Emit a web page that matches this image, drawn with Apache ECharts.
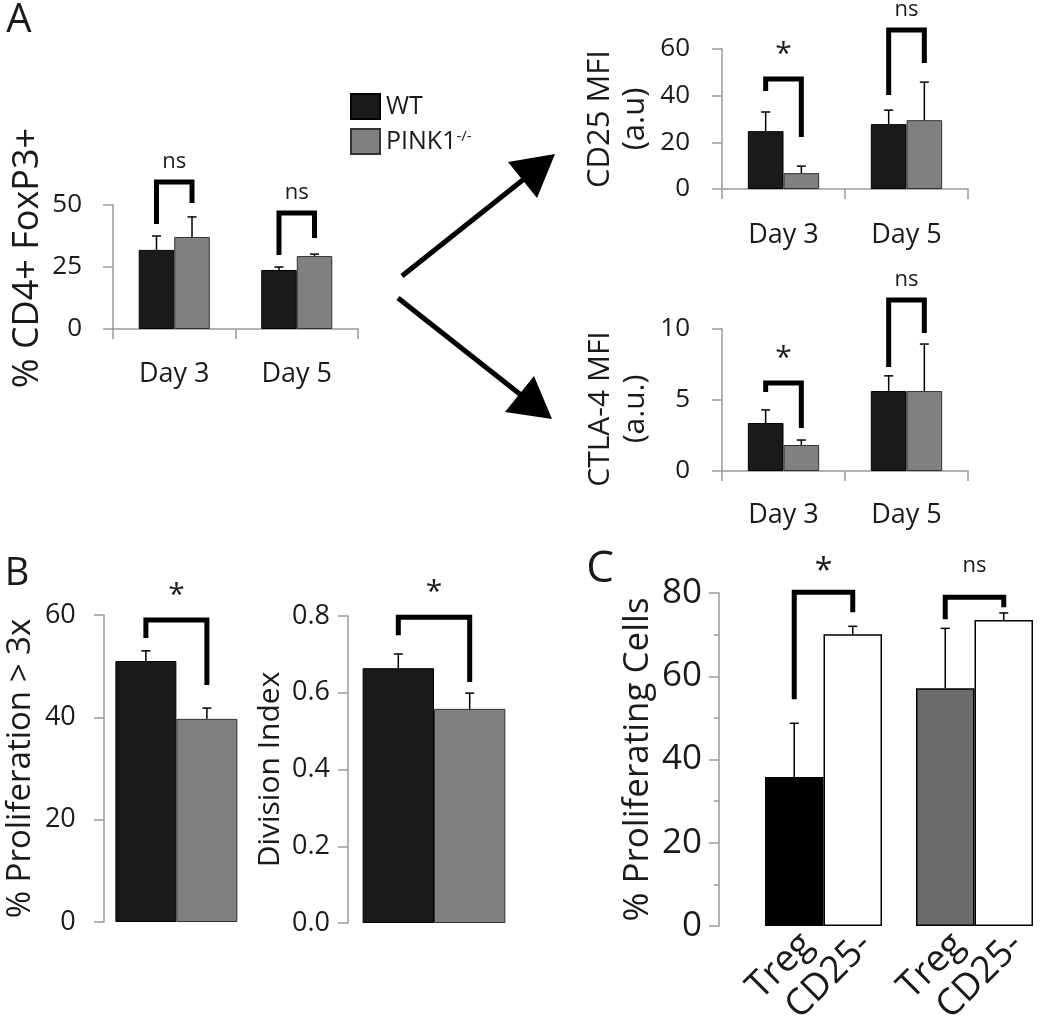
<!DOCTYPE html>
<html><head><meta charset="utf-8">
<script src="https://cdn.jsdelivr.net/npm/echarts@6/dist/echarts.min.js"></script>
<style>html,body{margin:0;padding:0;background:#fff}#c{width:1050px;height:1016px}</style>
</head><body><div id="c"></div>
<script>
// ---------- DATA ----------
const days = ['Day 3', 'Day 5'];
const groupNames = ['WT', 'PINK1-/-'];
// Panel A left: % CD4+ FoxP3+
const foxWT = [31.9, 23.8], foxWTErr = [37.5, 25.0];
const foxKO = [37.1, 29.4], foxKOErr = [45.2, 30.2];
// Panel A top right: CD25 MFI
const cd25WT = [24.8, 27.8], cd25WTErr = [33.0, 33.8];
const cd25KO = [6.8, 29.5], cd25KOErr = [9.8, 45.8];
// Panel A bottom right: CTLA-4 MFI
const ctlaWT = [3.38, 5.63], ctlaWTErr = [4.3, 6.7];
const ctlaKO = [1.83, 5.63], ctlaKOErr = [2.18, 8.94];
// Panel B
const prolifCat = [''];
const prolifWT = [51.0], prolifWTErr = [53.0];
const prolifKO = [39.7], prolifKOErr = [41.8];
const divWT = [0.664], divWTErr = [0.701];
const divKO = [0.558], divKOErr = [0.599];
// Panel C
const cGroups = ['WT', 'PINK1-/-'];
const cTreg = [35.8, 57.1], cTregErr = [48.7, 71.5];
const cCD25 = [70.1, 73.5], cCD25Err = [72.0, 75.2];
// Significance brackets: top, left leg end, right leg end (data units), label
const foxBrTop = [59.3, 46.8], foxBrL = [42.3, 29.8], foxBrR = [50.8, 36.7], foxSig = ['ns', 'ns'];
const cd25BrTop = [47.1, 68.1], cd25BrL = [42.0, 40.3], cd25BrR = [22.3, 54.0], cd25Sig = ['*', 'ns'];
const ctlaBrTop = [6.2, 12.04], ctlaBrL = [5.56, 7.32], ctlaBrR = [3.03, 9.72], ctlaSig = ['*', 'ns'];
const prolifBrTop = [59.0], prolifBrL = [55.5], prolifBrR = [46.3], prolifSig = ['*'];
const divBrTop = [0.797], divBrL = [0.750], divBrR = [0.628], divSig = ['*'];
const cBrTop = [80.2, 79.0], cBrL = [54.5, 73.7], cBrR = [75.4, 76.6], cSig = ['*', 'ns'];

// ---------- HELPERS ----------
const FONT = 'Open Sans';
const BLACK = '#1a1a1a', GRAY = '#808080', AXIS = '#9a9a9a';

function barW(api, gap) { return api.size([1, 0])[0] * (1 - gap) / 2; }

function errSeries(idx, vals, errs, slot, gap) {
  return {
    type: 'custom', xAxisIndex: idx, yAxisIndex: idx, silent: true, z: 5, clip: false,
    data: vals.map((v, i) => [i, v, errs[i]]),
    renderItem(params, api) {
      const bw = barW(api, gap);
      const c = api.coord([api.value(0), api.value(1)]);
      const t = api.coord([api.value(0), api.value(2)]);
      const x = c[0] + (slot === 0 ? -bw / 2 : bw / 2);
      return { type: 'group', children: [
        { type: 'line', shape: { x1: x, y1: c[1], x2: x, y2: t[1] }, style: { stroke: '#000', lineWidth: 1.5 } },
        { type: 'line', shape: { x1: x - 4.5, y1: t[1], x2: x + 4.5, y2: t[1] }, style: { stroke: '#000', lineWidth: 1.5 } }
      ] };
    }
  };
}

function bracketSeries(idx, tops, ls, rs, sigs, gap, offs, fonts) {
  return {
    type: 'custom', xAxisIndex: idx, yAxisIndex: idx, silent: true, z: 6, clip: false,
    data: tops.map((t, i) => [i, t, ls[i], rs[i]]),
    renderItem(params, api) {
      const bw = barW(api, gap);
      const i = api.value(0);
      const top = api.coord([i, api.value(1)]);
      const lb = api.coord([i, api.value(2)]);
      const rb = api.coord([i, api.value(3)]);
      const lx = top[0] - bw / 2, rx = top[0] + bw / 2;
      const s = sigs[params.dataIndex];
      return { type: 'group', children: [
        { type: 'polyline', shape: { points: [[lx, lb[1]], [lx, top[1]], [rx, top[1]], [rx, rb[1]]] },
          style: { stroke: '#000', lineWidth: 5, fill: null, lineJoin: 'miter', lineCap: 'butt' } },
        { type: 'text', x: top[0], y: top[1] - offs[s],
          style: { text: s, fontFamily: FONT, fontSize: fonts[s], fill: BLACK, align: 'center', verticalAlign: 'middle' } }
      ] };
    }
  };
}

function valueAxis(idx, max, interval, name, nameSize, nameGap, lh, margin, pad, extra) {
  return Object.assign({
    type: 'value', gridIndex: idx, min: 0, max: max, interval: interval,
    axisLine: { show: true, lineStyle: { color: AXIS, width: 1.5 } },
    axisTick: { show: true, length: 10, lineStyle: { color: AXIS, width: 1.5 } },
    splitLine: { show: false },
    axisLabel: { fontFamily: FONT, fontSize: 26, color: BLACK, margin: margin },
    name: name, nameLocation: 'middle', nameRotate: 90, nameGap: nameGap,
    nameTextStyle: { fontFamily: FONT, fontSize: nameSize, color: BLACK, lineHeight: lh, padding: pad }
  }, extra || {});
}

function catAxis(idx, data, showLine, margin) {
  return {
    type: 'category', gridIndex: idx, data: data,
    axisLine: { show: showLine, lineStyle: { color: AXIS, width: 1.5 } },
    axisTick: { show: showLine, length: 10, lineStyle: { color: AXIS, width: 1.5 } },
    axisLabel: { show: showLine, fontFamily: FONT, fontSize: 27, color: BLACK, margin: margin }
  };
}

function bars(idx, name, vals, color, border, gap) {
  return {
    type: 'bar', name: name, xAxisIndex: idx, yAxisIndex: idx, data: vals,
    barGap: '0%', barCategoryGap: (gap * 100) + '%', z: 2,
    itemStyle: { color: color, borderColor: border, borderWidth: 1 }
  };
}

const GA = 0.42, GB1 = 0.16, GB2 = 0.17, GC = 0.225;
const offA = { 'ns': 20, '*': 25 }, fontA = { 'ns': 22, '*': 30 };
const offC = { 'ns': 31, '*': 20 }, fontC = { 'ns': 22, '*': 32 };
const cLabel = { show: true, position: 'bottom', distance: 0, rotate: 45, align: 'right', verticalAlign: 'top',
  formatter: '{a}', fontFamily: FONT, fontSize: 37, color: BLACK };

const option = {
  animation: false,
  textStyle: { fontFamily: FONT },
  legend: {
    left: 345, top: 88, orient: 'vertical', itemWidth: 29, itemHeight: 25, itemGap: 8,
    data: groupNames, icon: 'rect',
    formatter: n => n === 'PINK1-/-' ? 'PINK1{sup|-/-}' : n,
    textStyle: { fontFamily: FONT, fontSize: 25, color: BLACK, padding: [0, 0, 0, 1],
      rich: { sup: { fontFamily: FONT, fontSize: 15, verticalAlign: 'top', padding: [0, 0, 10, 0], color: BLACK } } }
  },
  grid: [
    { left: 113, top: 205, width: 245, height: 124 },
    { left: 722, top: 49, width: 246, height: 140 },
    { left: 722, top: 329, width: 246, height: 142 },
    { left: 95, top: 615, width: 154, height: 307 },
    { left: 348, top: 616, width: 172, height: 307 },
    { left: 748, top: 593, width: 320, height: 333 }
  ],
  xAxis: [
    catAxis(0, days, true, 32),
    catAxis(1, days, true, 33),
    catAxis(2, days, true, 31),
    catAxis(3, prolifCat, false, 10),
    catAxis(4, prolifCat, false, 10),
    catAxis(5, cGroups, false, 10)
  ],
  yAxis: [
    valueAxis(0, 50, 25, '% CD4+ FoxP3+', 36, 64, 42, 31, [0, 0, 0, 18]),
    valueAxis(1, 60, 20, 'CD25 MFI\n(a.u)', 31, 69, 35, 32, 0),
    valueAxis(2, 10, 5, 'CTLA-4 MFI\n(a.u.)', 30, 69, 35, 32, [0, 18, 0, 0]),
    valueAxis(3, 60, 20, '% Proliferation > 3x', 33, 56, 40, 28, 0,
      { axisLabel: { fontFamily: FONT, fontSize: 27, color: BLACK, margin: 28 } }),
    valueAxis(4, 0.8, 0.2, 'Division Index', 30, 55, 36, 18, 0,
      { axisLabel: { fontFamily: FONT, fontSize: 27, color: BLACK, margin: 18, formatter: v => v.toFixed(1) } }),
    valueAxis(5, 80, 20, '% Proliferating Cells', 35, 51, 40, 17, 0,
      { offset: 29, axisLabel: { fontFamily: FONT, fontSize: 35, color: BLACK, margin: 17 },
        minorTick: { show: true, splitNumber: 2, length: 5, lineStyle: { color: AXIS, width: 1.5 } } })
  ],
  series: [
    bars(0, 'WT', foxWT, BLACK, '#000', GA),
    bars(0, 'PINK1-/-', foxKO, GRAY, '#333', GA),
    errSeries(0, foxWT, foxWTErr, 0, GA), errSeries(0, foxKO, foxKOErr, 1, GA),
    bracketSeries(0, foxBrTop, foxBrL, foxBrR, foxSig, GA, offA, fontA),

    bars(1, 'WT', cd25WT, BLACK, '#000', GA),
    bars(1, 'PINK1-/-', cd25KO, GRAY, '#333', GA),
    errSeries(1, cd25WT, cd25WTErr, 0, GA), errSeries(1, cd25KO, cd25KOErr, 1, GA),
    bracketSeries(1, cd25BrTop, cd25BrL, cd25BrR, cd25Sig, GA, offA, fontA),

    bars(2, 'WT', ctlaWT, BLACK, '#000', GA),
    bars(2, 'PINK1-/-', ctlaKO, GRAY, '#333', GA),
    errSeries(2, ctlaWT, ctlaWTErr, 0, GA), errSeries(2, ctlaKO, ctlaKOErr, 1, GA),
    bracketSeries(2, ctlaBrTop, ctlaBrL, ctlaBrR, ctlaSig, GA, offA, fontA),

    bars(3, 'WT', prolifWT, BLACK, '#000', GB1),
    bars(3, 'PINK1-/-', prolifKO, GRAY, '#333', GB1),
    errSeries(3, prolifWT, prolifWTErr, 0, GB1), errSeries(3, prolifKO, prolifKOErr, 1, GB1),
    bracketSeries(3, prolifBrTop, prolifBrL, prolifBrR, prolifSig, GB1, offA, fontA),

    bars(4, 'WT', divWT, BLACK, '#000', GB2),
    bars(4, 'PINK1-/-', divKO, GRAY, '#333', GB2),
    errSeries(4, divWT, divWTErr, 0, GB2), errSeries(4, divKO, divKOErr, 1, GB2),
    bracketSeries(4, divBrTop, divBrL, divBrR, divSig, GB2, offA, fontA),

    {
      type: 'bar', name: 'Treg', xAxisIndex: 5, yAxisIndex: 5, barGap: '0%', barCategoryGap: (GC * 100) + '%', z: 2,
      data: cTreg.map((v, i) => ({ value: v, itemStyle: { color: i === 0 ? '#000' : '#6b6b6b' } })),
      itemStyle: { borderColor: '#000', borderWidth: 1.5 },
      label: cLabel
    },
    {
      type: 'bar', name: 'CD25-', xAxisIndex: 5, yAxisIndex: 5, barGap: '0%', barCategoryGap: (GC * 100) + '%', z: 2,
      data: cCD25, itemStyle: { color: '#fff', borderColor: '#000', borderWidth: 1.5 },
      label: cLabel
    },
    errSeries(5, cTreg, cTregErr, 0, GC), errSeries(5, cCD25, cCD25Err, 1, GC),
    bracketSeries(5, cBrTop, cBrL, cBrR, cSig, GC, offC, fontC)
  ],
  graphic: [
    { type: 'line', shape: { x1: 402, y1: 276, x2: 524, y2: 179 }, style: { stroke: '#000', lineWidth: 5 } },
    { type: 'polygon', shape: { points: [[508, 162], [555, 154], [537, 198]] }, style: { fill: '#000' } },
    { type: 'line', shape: { x1: 398, y1: 298, x2: 521, y2: 395 }, style: { stroke: '#000', lineWidth: 5 } },
    { type: 'polygon', shape: { points: [[505, 412], [534, 376], [552, 419]] }, style: { fill: '#000' } },
    { type: 'text', x: 19, y: 21, style: { text: 'A', fontFamily: FONT, fontSize: 40, fill: BLACK, align: 'center', verticalAlign: 'middle' } },
    { type: 'text', x: 17, y: 574, style: { text: 'B', fontFamily: FONT, fontSize: 38, fill: BLACK, align: 'center', verticalAlign: 'middle' } },
    { type: 'text', x: 600, y: 569, style: { text: 'C', fontFamily: FONT, fontSize: 44, fill: BLACK, align: 'center', verticalAlign: 'middle' } }
  ]
};

const chart = echarts.init(document.getElementById('c'), null, { renderer: 'canvas' });
chart.setOption(option);
</script>
</body></html>
